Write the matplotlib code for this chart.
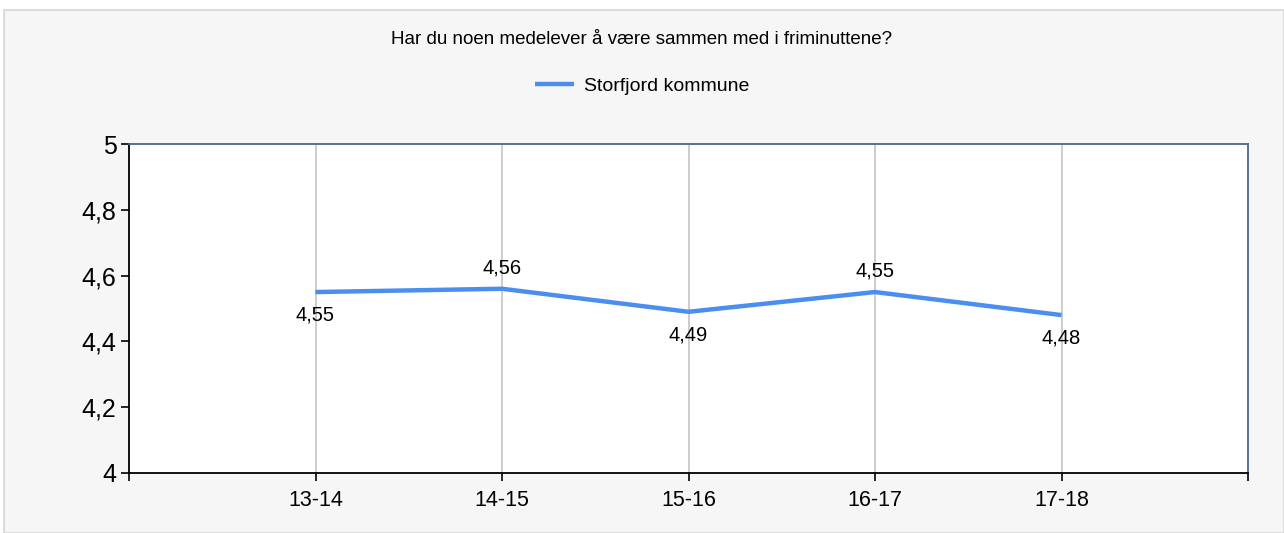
import matplotlib.pyplot as plt
from matplotlib.patches import Rectangle

# Data
categories = ['13-14', '14-15', '15-16', '16-17', '17-18']
values = [4.55, 4.56, 4.49, 4.55, 4.48]
label_above = [False, True, False, True, False]
series_name = 'Storfjord kommune'
title = 'Har du noen medelever å være sammen med i friminuttene?'

plt.rcParams['font.family'] = ['Liberation Sans', 'DejaVu Sans']

fig = plt.figure(figsize=(12.84, 5.33), dpi=100)
fig.patch.set_facecolor('white')
# panel background with light border (behind the axes)
fig.patches.append(Rectangle((4 / 1284, 0), 1 - 4 / 1284, 1 - 10 / 533,
                             transform=fig.transFigure, facecolor='#f6f6f6',
                             edgecolor='#dcdcdc', linewidth=1.5, zorder=-10))

ax = fig.add_axes([129 / 1284, 1 - 473 / 533, (1248 - 129) / 1284, (473 - 144) / 533])
ax.set_facecolor('white')

x = list(range(1, len(categories) + 1))
line, = ax.plot(x, values, color='#4a8ff0', linewidth=3.2, solid_capstyle='butt',
                label=series_name, zorder=3)

for xi, v, up in zip(x, values, label_above):
    txt = f'{v:.2f}'.replace('.', ',')
    if up:
        ax.annotate(txt, (xi, v), xytext=(0, 8), textcoords='offset points',
                    ha='center', va='bottom', fontsize=14.5)
    else:
        ax.annotate(txt, (xi, v), xytext=(0, -10), textcoords='offset points',
                    ha='center', va='top', fontsize=14.5)

ax.set_xlim(0, len(categories) + 1)
ax.set_ylim(4, 5)
ax.set_xticks([0] + x + [len(categories) + 1])
ax.set_xticklabels([''] + categories + [''], fontsize=15.5)
yticks = [4, 4.2, 4.4, 4.6, 4.8, 5]
ax.set_yticks(yticks)
ax.set_yticklabels([f'{t:g}'.replace('.', ',') for t in yticks], fontsize=18)
ax.tick_params(axis='both', direction='out', length=6, width=1.2, color='black')
ax.tick_params(axis='x', pad=6)
ax.tick_params(axis='y', pad=3)

for xi in x:
    ax.axvline(xi, color='#c4c4c4', linewidth=1.2, zorder=1)

ax.spines['left'].set_color('black')
ax.spines['bottom'].set_color('black')
ax.spines['top'].set_color('#4d6590')
ax.spines['right'].set_color('#4d6590')
for s in ax.spines.values():
    s.set_linewidth(1.3)

fig.text(0.5, 1 - 40 / 533, title, ha='center', va='center', fontsize=13.5)
fig.legend(handles=[line], loc='center', bbox_to_anchor=(0.5, 1 - 86 / 533),
           frameon=False, fontsize=14, handlelength=2.0, handletextpad=0.5)

plt.savefig('out.png', dpi=100, facecolor=fig.get_facecolor())
